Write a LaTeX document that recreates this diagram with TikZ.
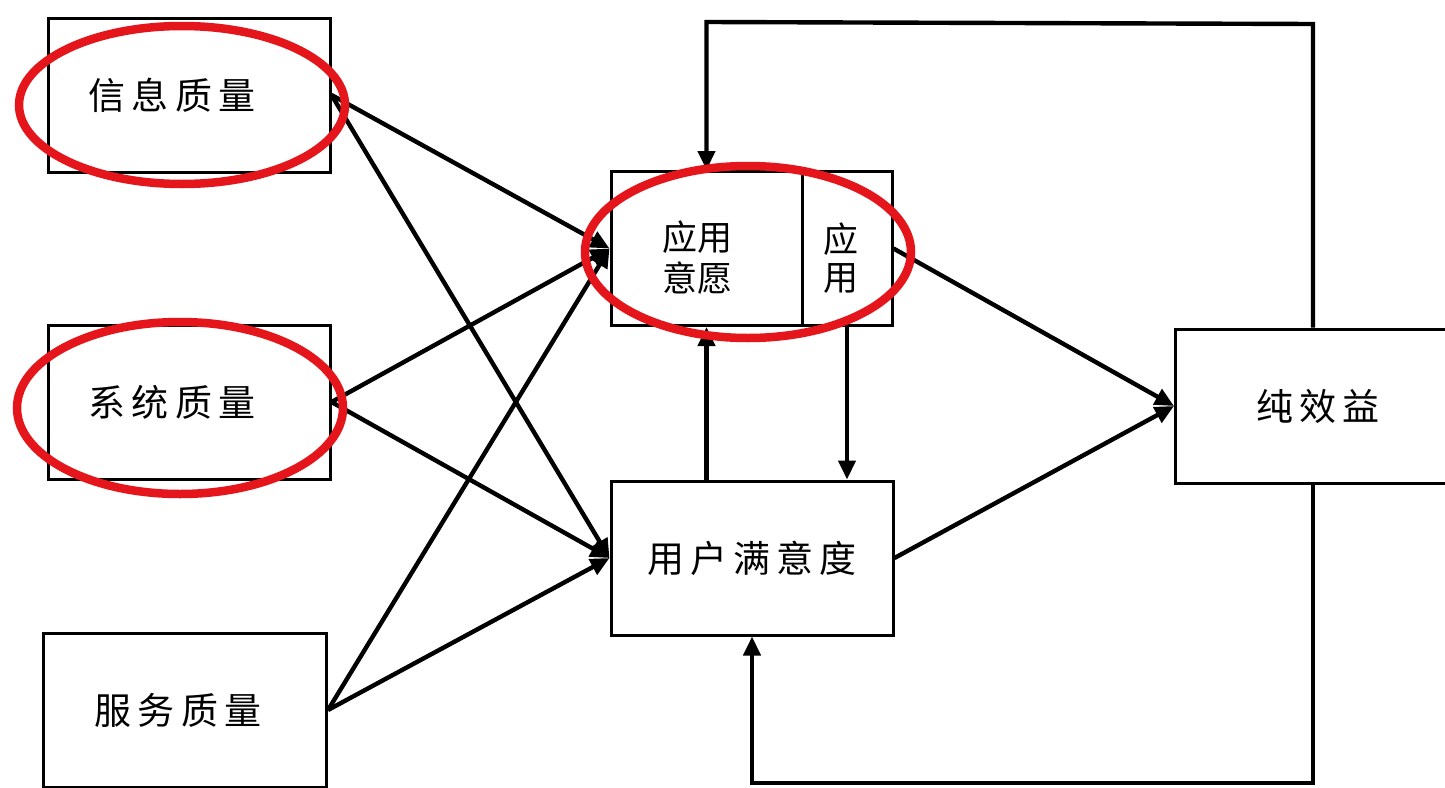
\documentclass[tikz,border=0pt]{standalone}
\usepackage{fontspec}
\newfontfamily\cjk{Noto Sans CJK SC}
\usetikzlibrary{arrows.meta,calc}
\definecolor{ringred}{RGB}{228,22,28}
\newcommand{\twolines}[3]{\smash{\raisebox{#3}{\begin{tabular}{@{}c@{}}#1\\#2\end{tabular}}}}
\begin{document}
\begin{tikzpicture}[x=1pt,y=-1pt,
  box/.style={draw=black,line width=3pt,minimum width=#1,minimum height=154pt,inner sep=0pt,
     font=\cjk\fontsize{37}{40}\selectfont},
  conn/.style={line width=4.4pt,-{Triangle[length=19pt,width=17pt]}},
  redring/.style={draw=ringred,line width=8.5pt}]
\useasboundingbox (0,0) rectangle (1445,787);
\clip (0,0) rectangle (1445,787);
\fill[white] (0,0) rectangle (1445,787);
% boxes
\node[box=282pt] (info) at (189,95) {信\,息\,质\,量\hspace*{34pt}};
\node[box=282pt] (sys) at (189,402) {系\,统\,质\,量\hspace*{34pt}};
\node[box=283pt] (serv) at (185,710) {服\,务\,质\,量\hspace*{14pt}};
\node[box=191pt,font=\cjk\fontsize{35}{38}\selectfont,text height=0pt,text depth=0pt] (intent) at (706.5,248.5) {\twolines{应用}{意愿}{-20pt}\hspace*{18pt}};
\node[box=90pt,font=\cjk\fontsize{35}{38}\selectfont,text height=0pt,text depth=0pt] (use) at (847,248.5) {\twolines{应}{用}{-20pt}\hspace*{12pt}};
\node[box=282pt] (sat) at (752,558) {用\,户\,满\,意\,度};
\node[box=285pt] (net) at (1318,406) {纯\,效\,益};
% connectors from the left
\draw[conn] (info.east) -- (intent.west);
\draw[conn] (info.east) -- (sat.west);
\draw[conn] (sys.east) -- (intent.west);
\draw[conn] (sys.east) -- (sat.west);
\draw[conn] (serv.east) -- (intent.west);
\draw[conn] (serv.east) -- (sat.west);
% middle
\draw[conn] (intent.south |- sat.north) -- (intent.south);
\draw[conn] (use.south) -- (use.south |- sat.north);
\draw[conn] (use.east) -- (net.west);
\draw[conn] (sat.east) -- (net.west);
% feedback loops
\coordinate (tr) at (1313,24);
\coordinate (tl) at (706.5,22);
\draw[conn] (tr |- net.north) -- (tr) -- (tl) -- (intent.north);
\coordinate (br) at (1313,783);
\coordinate (bl) at (752,783);
\draw[conn] (br |- net.south) -- (br) -- (bl) -- (sat.south);
% red ellipses
\draw[redring] (182,105) ellipse [x radius=163, y radius=79];
\draw[redring] (180,408) ellipse [x radius=163, y radius=86];
\draw[redring] (748,252) ellipse [x radius=163, y radius=86];
\end{tikzpicture}
\end{document}
